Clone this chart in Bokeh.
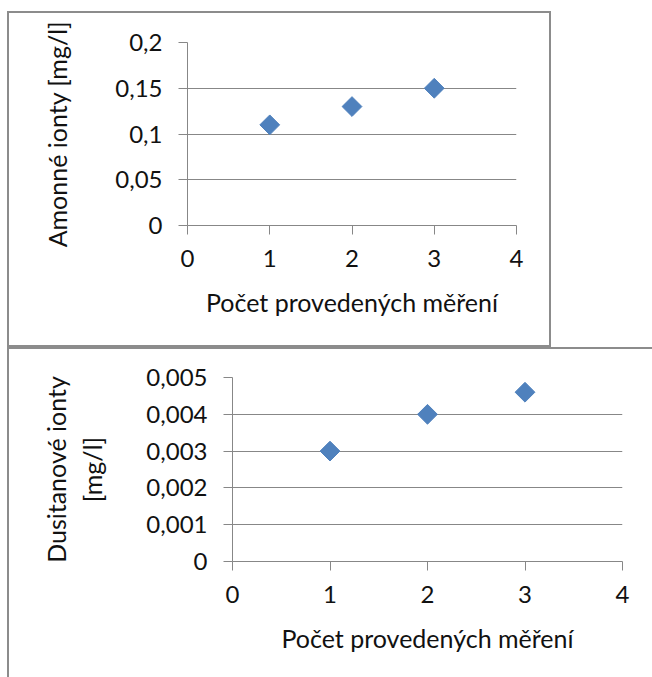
import math
from bokeh.plotting import figure
from bokeh.layouts import column
from bokeh.models import Range1d, FixedTicker
from bokeh.embed import file_html
from bokeh.resources import INLINE

# ---- data ----
measurements = [1, 2, 3]
x_ticks = [0, 1, 2, 3, 4]
x_tick_labels = ["0", "1", "2", "3", "4"]
x_title = "Počet provedených měření"

amonne = [0.11, 0.13, 0.15]
amonne_ticks = [0, 0.05, 0.1, 0.15, 0.2]
amonne_tick_labels = ["0", "0,05", "0,1", "0,15", "0,2"]
amonne_title = "Amonné ionty [mg/l]"

dusitan = [0.003, 0.004, 0.0046]
dusitan_ticks = [0, 0.001, 0.002, 0.003, 0.004, 0.005]
dusitan_tick_labels = ["0", "0,001", "0,002", "0,003", "0,004", "0,005"]
dusitan_title = "Dusitanové ionty\n[mg/l]"

FONT = "Lato"
GRID = "#878787"
BORDER = "#8c8c8c"
MARK = "#4f81bd"


def make_chart(w, h, bl, br, bt, bb, ys, yticks, ylabels, ytitle, ytitle_standoff):
    p = figure(width=w, height=h, output_backend="svg", toolbar_location=None,
               x_range=Range1d(0, 4), y_range=Range1d(yticks[0], yticks[-1]),
               min_border_left=bl, min_border_right=br, min_border_top=bt,
               min_border_bottom=bb, tools="", frame_align=False)
    p.outline_line_color = None
    p.background_fill_color = "white"
    p.border_fill_color = "white"

    p.xaxis.ticker = FixedTicker(ticks=x_ticks)
    p.xaxis.major_label_overrides = {t: l for t, l in zip(x_ticks, x_tick_labels)}
    p.yaxis.ticker = FixedTicker(ticks=yticks)
    p.yaxis.major_label_overrides = {t: l for t, l in zip(yticks, ylabels)}

    for ax in (p.xaxis[0], p.yaxis[0]):
        ax.axis_line_color = GRID
        ax.axis_line_width = 1
        ax.major_tick_line_color = GRID
        ax.major_tick_in = 0
        ax.major_tick_out = 9
        ax.minor_tick_line_color = None
        ax.major_label_text_font = FONT
        ax.major_label_text_font_size = "24px"
        ax.major_label_text_color = "#111111"
        ax.axis_label_text_font = FONT
        ax.axis_label_text_font_size = "25px"
        ax.axis_label_text_font_style = "normal"
        ax.axis_label_text_color = "#111111"

    p.xaxis.axis_label = x_title
    p.xaxis.major_label_standoff = 15
    p.xaxis.axis_label_standoff = 17
    p.yaxis.axis_label = ytitle
    p.yaxis.major_label_standoff = 16
    p.yaxis.axis_label_standoff = ytitle_standoff

    p.xgrid.grid_line_color = None
    p.ygrid.grid_line_color = GRID
    p.ygrid.grid_line_width = 1

    p.scatter(measurements, ys, marker="square", size=14, angle=math.pi / 4,
              fill_color=MARK, line_color=MARK)
    return p


top = make_chart(544, 336, 178, 37, 29, 124, amonne, amonne_ticks,
                 amonne_tick_labels, amonne_title, 40)
top.margin = (11, 0, 0, 7)
top.styles = {"border": f"2px solid {BORDER}"}

bottom = make_chart(645, 330, 223, 32, 28, 118, dusitan, dusitan_ticks,
                    dusitan_tick_labels, dusitan_title, 36)
bottom.margin = (0, 0, 0, 7)
bottom.styles = {"border-top": f"2px solid {BORDER}",
                 "border-left": f"2px solid {BORDER}"}

layout = column(top, bottom, spacing=0)
open("out.html", "w").write(file_html(layout, INLINE))
